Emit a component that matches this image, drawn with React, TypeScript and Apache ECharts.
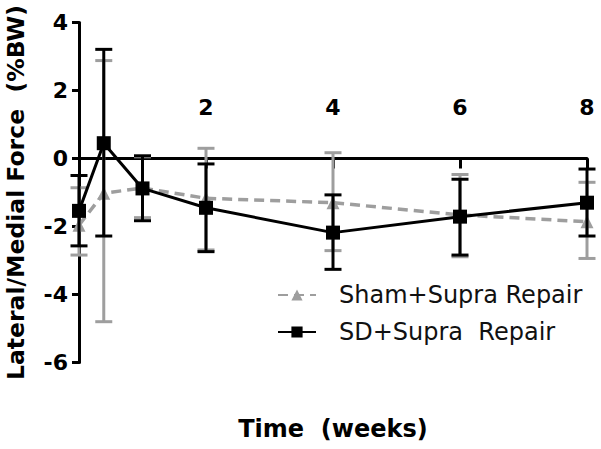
import React, { useEffect, useRef } from "react";
import * as echarts from "echarts";

const weeks = [0, 0.39, 1, 2, 4, 6, 8];
const shamMean = [-1.96, -1.02, -0.87, -1.17, -1.3, -1.66, -1.86];
const shamLow = [-2.84, -4.8, -1.74, -2.69, -2.71, -2.89, -2.94];
const shamHigh = [-0.86, 2.88, 0.05, 0.3, 0.17, -0.47, -0.7];
const sdMean = [-1.54, 0.45, -0.88, -1.45, -2.18, -1.71, -1.3];
const sdLow = [-2.57, -2.28, -1.83, -2.74, -3.26, -2.84, -2.28];
const sdHigh = [-0.5, 3.21, 0.08, -0.16, -1.07, -0.61, -0.31];

const seriesNames = ["Sham+Supra Repair", "SD+Supra  Repair"];
const xTitle = "Time  (weeks)";
const yTitle = "Lateral/Medial Force  (%BW)";

const FONT = "DejaVu Sans";
const GRAY = "#9e9e9e";

function errorBars(color: string, width: number) {
  return (params: any, api: any) => {
    const x = api.value(0);
    const lo = api.value(1);
    const hi = api.value(2);
    const pLo = api.coord([x, lo]);
    const pHi = api.coord([x, hi]);
    const w = 8.5;
    const style = { stroke: color, lineWidth: width };
    return {
      type: "group",
      children: [
        { type: "line", shape: { x1: pHi[0], y1: pHi[1], x2: pLo[0], y2: pLo[1] }, style },
        { type: "line", shape: { x1: pHi[0] - w, y1: pHi[1], x2: pHi[0] + w, y2: pHi[1] }, style },
        { type: "line", shape: { x1: pLo[0] - w, y1: pLo[1], x2: pLo[0] + w, y2: pLo[1] }, style },
      ],
    };
  };
}

export default function App() {
  const ref = useRef<HTMLDivElement>(null);
  useEffect(() => {
    if (!ref.current) return;
    const chart = echarts.init(ref.current, null, { renderer: "svg" });
    const shamPts = weeks.map((w, i) => [w, shamMean[i]]);
    const sdPts = weeks.map((w, i) => [w, sdMean[i]]);
    const shamErr = weeks.map((w, i) => [w, shamLow[i], shamHigh[i]]);
    const sdErr = weeks.map((w, i) => [w, sdLow[i], sdHigh[i]]);
    chart.setOption({
      animation: false,
      backgroundColor: "#ffffff",
      title: {
        text: xTitle,
        left: 333,
        top: 417,
        textAlign: "center",
        padding: 0,
        textStyle: { fontFamily: FONT, fontWeight: "bold", fontSize: 24, color: "#000" },
      },
      legend: {
        orient: "vertical",
        left: 277,
        top: 283,
        padding: 0,
        itemWidth: 38,
        itemHeight: 14,
        itemGap: 13,
        data: seriesNames,
        textStyle: {
          fontFamily: FONT,
          fontSize: 24,
          color: "#111",
          lineHeight: 24,
          padding: [0, 0, 0, 18],
        },
      },
      grid: {
        left: 79,
        right: 14,
        top: 22.5,
        bottom: 86.5,
        containLabel: false,
        outerBoundsMode: "none",
      },
      xAxis: [
        {
          type: "value",
          min: 0,
          max: 8,
          interval: 2,
          axisLine: { onZero: true, lineStyle: { color: "#000", width: 3 } },
          axisTick: { show: true, length: 10, lineStyle: { color: "#000", width: 3 } },
          axisLabel: { show: false },
          splitLine: { show: false },
        },
        {
          type: "value",
          position: "top",
          min: 0,
          max: 8,
          interval: 2,
          axisLine: { show: false, onZero: false },
          axisTick: { show: false },
          axisLabel: {
            inside: true,
            margin: 74,
            showMinLabel: false,
            formatter: (v: number) => (v === 0 ? "" : String(v)),
            fontFamily: FONT,
            fontWeight: "bold",
            fontSize: 22,
            color: "#000",
          },
          splitLine: { show: false },
        },
      ],
      yAxis: {
        type: "value",
        min: -6,
        max: 4,
        interval: 2,
        name: yTitle,
        nameLocation: "middle",
        nameGap: 51,
        nameTextStyle: { fontFamily: FONT, fontWeight: "bold", fontSize: 23.5, color: "#000" },
        axisLine: { onZero: false, lineStyle: { color: "#000", width: 3 } },
        axisTick: { show: true, length: 7, lineStyle: { color: "#000", width: 3 } },
        axisLabel: {
          margin: 11,
          fontFamily: FONT,
          fontWeight: "bold",
          fontSize: 22,
          color: "#000",
        },
        splitLine: { show: false },
      },
      series: [
        {
          type: "custom",
          name: "shamErr",
          renderItem: errorBars(GRAY, 3),
          data: shamErr,
          encode: { x: 0, y: [1, 2] },
          clip: false,
          z: 1,
          silent: true,
        },
        {
          type: "line",
          name: seriesNames[0],
          data: shamPts,
          symbol: "triangle",
          symbolSize: 13,
          itemStyle: { color: GRAY },
          lineStyle: { color: GRAY, width: 3.5, type: [10, 6] },
          z: 2,
        },
        {
          type: "custom",
          name: "sdErr",
          renderItem: errorBars("#000", 3),
          data: sdErr,
          encode: { x: 0, y: [1, 2] },
          clip: false,
          z: 3,
          silent: true,
        },
        {
          type: "line",
          name: seriesNames[1],
          data: sdPts,
          symbol: "rect",
          symbolSize: 14,
          itemStyle: { color: "#000" },
          lineStyle: { color: "#000", width: 3 },
          z: 4,
        },
      ],
    });
    return () => chart.dispose();
  }, []);
  return (
    <div
      ref={ref}
      style={{ position: "fixed", left: 0, top: 0, width: 601, height: 449, background: "#fff" }}
    />
  );
}
